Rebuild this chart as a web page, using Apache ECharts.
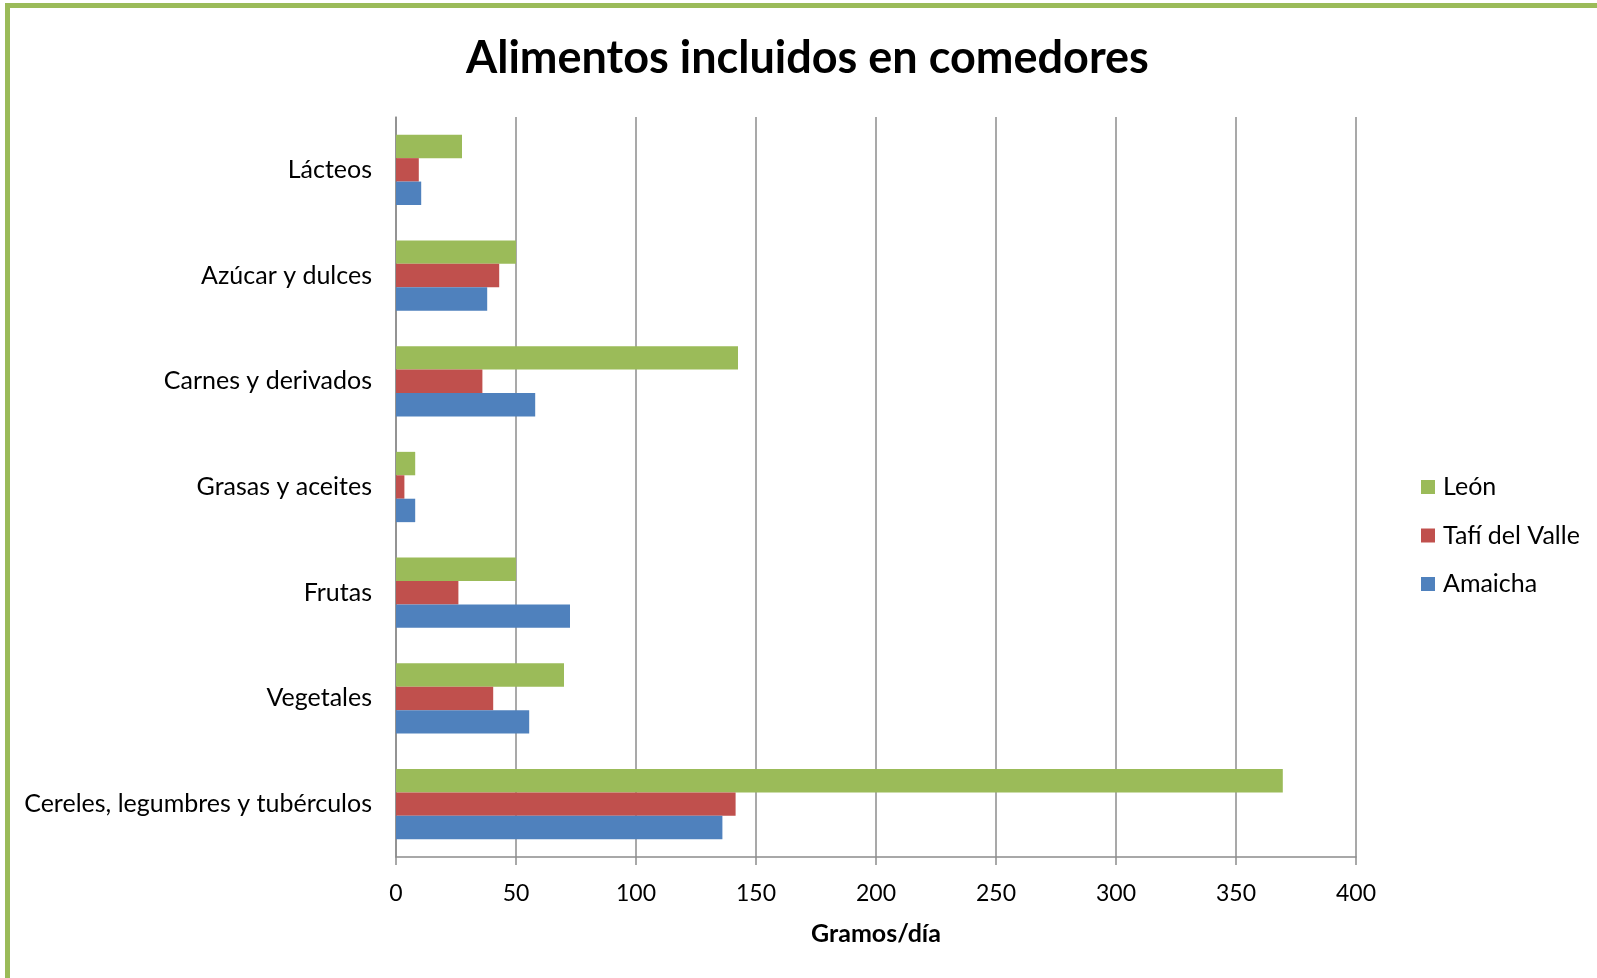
<!DOCTYPE html>
<html>
<head>
<meta charset="utf-8">
<title>Alimentos incluidos en comedores</title>
<script src="https://cdn.jsdelivr.net/npm/echarts@6/dist/echarts.min.js"></script>
<style>
  html, body { margin: 0; padding: 0; background: #ffffff; }
  #chart { width: 1597px; height: 978px; }
</style>
</head>
<body>
<div id="chart"></div>
<script>
// Food groups, listed bottom to top as the category axis draws them
const categories = [
  'Cereles, legumbres y tubérculos',
  'Vegetales',
  'Frutas',
  'Grasas y aceites',
  'Carnes y derivados',
  'Azúcar y dulces',
  'Lácteos'
];

// Grams per day served in each locality
const leon = [369.5, 70, 50, 8, 142.5, 50, 27.5];
const tafiDelValle = [141.5, 40.5, 26, 3.5, 36, 43, 9.5];
const amaicha = [136, 55.5, 72.5, 8, 58, 38, 10.5];

const xTicks = [0, 50, 100, 150, 200, 250, 300, 350, 400];

const FONT = 'Lato, "Open Sans", sans-serif';

const chart = echarts.init(document.getElementById('chart'), null, { renderer: 'canvas' });

const barSeries = (name, data, color) => ({
  name,
  type: 'bar',
  data,
  barGap: '0%',
  barCategoryGap: '33.5%',
  itemStyle: { color },
  emphasis: { disabled: true },
  animation: false
});

chart.setOption({
  backgroundColor: '#ffffff',
  animation: false,
  title: {
    text: 'Alimentos incluidos en comedores',
    left: 461,
    top: 31,
    textStyle: { fontFamily: FONT, fontWeight: 'bold', fontSize: 45, color: '#000000' }
  },
  legend: {
    orient: 'vertical',
    left: 1416,
    top: 469,
    itemWidth: 14,
    itemHeight: 14,
    itemGap: 22.5,
    icon: 'rect',
    data: ['León', 'Tafí del Valle', 'Amaicha'],
    textStyle: { fontFamily: FONT, fontSize: 25, color: '#000000', lineHeight: 26, padding: [0, 0, 0, 3] }
  },
  grid: { left: 396, right: 241, top: 117, bottom: 121, containLabel: false },
  xAxis: {
    type: 'value',
    min: xTicks[0],
    max: xTicks[xTicks.length - 1],
    interval: xTicks[1] - xTicks[0],
    name: 'Gramos/día',
    nameLocation: 'middle',
    nameGap: 64,
    nameTextStyle: { fontFamily: FONT, fontWeight: 'bold', fontSize: 25, color: '#000000' },
    axisLine: { show: true, lineStyle: { color: '#8c8c8c', width: 1.5 } },
    axisTick: { show: true, length: 8, lineStyle: { color: '#8c8c8c', width: 1.5 } },
    axisLabel: { fontFamily: FONT, fontSize: 23, color: '#000000', margin: 25 },
    splitLine: { show: true, lineStyle: { color: '#8c8c8c', width: 1.5 } }
  },
  yAxis: {
    type: 'category',
    data: categories,
    axisLine: { show: true, lineStyle: { color: '#8c8c8c', width: 1.5 } },
    axisTick: { show: false },
    axisLabel: { fontFamily: FONT, fontSize: 25, color: '#000000', margin: 24 },
    splitLine: { show: false }
  },
  series: [
    barSeries('León', leon, '#9bbb59'),
    barSeries('Tafí del Valle', tafiDelValle, '#c0504d'),
    barSeries('Amaicha', amaicha, '#4f81bd')
  ],
  graphic: [
    {
      type: 'rect',
      silent: true,
      shape: { x: 7.5, y: 5.5, width: 1700, height: 1100 },
      style: { fill: null, stroke: '#9bbb59', lineWidth: 5 }
    }
  ]
});
</script>
</body>
</html>
